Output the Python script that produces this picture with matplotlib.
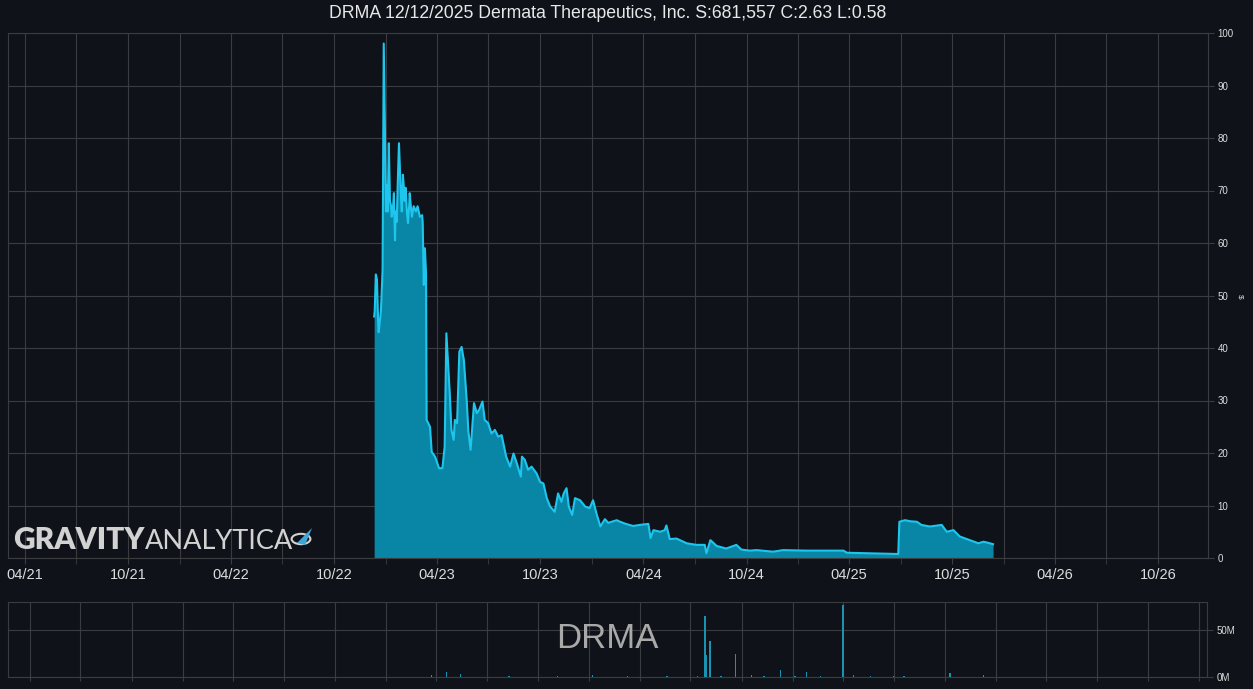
import matplotlib
matplotlib.use("Agg")
import matplotlib.pyplot as plt
import matplotlib.dates as mdates
from matplotlib.ticker import FixedLocator, FuncFormatter
import pandas as pd
from matplotlib.patches import Circle, Polygon

plt.rcParams['font.family'] = ['Liberation Sans', 'DejaVu Sans']

# ---------------- data ----------------
price_dates = [
    "2022-12-11", "2022-12-12", "2022-12-14", "2022-12-16", "2022-12-18", "2022-12-19",
    "2022-12-23", "2022-12-26", "2022-12-28", "2022-12-30", "2023-01-01", "2023-01-03",
    "2023-01-04", "2023-01-06", "2023-01-08", "2023-01-10", "2023-01-11", "2023-01-13",
    "2023-01-15", "2023-01-17", "2023-01-18", "2023-01-20", "2023-01-22", "2023-01-24",
    "2023-01-26", "2023-01-27", "2023-01-29", "2023-01-31", "2023-02-02", "2023-02-03",
    "2023-02-05", "2023-02-07", "2023-02-09", "2023-02-11", "2023-02-12", "2023-02-14",
    "2023-02-16", "2023-02-19", "2023-02-23", "2023-02-26", "2023-03-02", "2023-03-06",
    "2023-03-07", "2023-03-09", "2023-03-11", "2023-03-13", "2023-03-14", "2023-03-20",
    "2023-03-23", "2023-03-29", "2023-04-05", "2023-04-11", "2023-04-15", "2023-04-18",
    "2023-04-24", "2023-04-27", "2023-05-01", "2023-05-03", "2023-05-07", "2023-05-11",
    "2023-05-15", "2023-05-19", "2023-05-24", "2023-05-27", "2023-05-31", "2023-06-06",
    "2023-06-11", "2023-06-15", "2023-06-21", "2023-06-25", "2023-07-01", "2023-07-07",
    "2023-07-13", "2023-07-19", "2023-07-25", "2023-08-02", "2023-08-09", "2023-08-15",
    "2023-08-21", "2023-08-28", "2023-08-30", "2023-09-04", "2023-09-10", "2023-09-16",
    "2023-09-25", "2023-10-01", "2023-10-07", "2023-10-13", "2023-10-19", "2023-10-27",
    "2023-11-02", "2023-11-08", "2023-11-12", "2023-11-17", "2023-11-21", "2023-11-27",
    "2023-12-02", "2023-12-11", "2023-12-20", "2023-12-28", "2024-01-03", "2024-01-09",
    "2024-01-16", "2024-01-24", "2024-01-30", "2024-02-14", "2024-02-20", "2024-03-01",
    "2024-03-14", "2024-03-26", "2024-04-10", "2024-04-14", "2024-04-19", "2024-05-01",
    "2024-05-09", "2024-05-12", "2024-05-18", "2024-05-30", "2024-06-17", "2024-07-04",
    "2024-07-19", "2024-07-22", "2024-07-29", "2024-08-09", "2024-08-26", "2024-09-13",
    "2024-09-22", "2024-10-07", "2024-10-19", "2024-11-17", "2024-12-05", "2025-01-16",
    "2025-03-22", "2025-03-28", "2025-05-02", "2025-06-24", "2025-06-27", "2025-06-29",
    "2025-07-09", "2025-07-18", "2025-07-30", "2025-08-07", "2025-08-22", "2025-09-12",
    "2025-09-21", "2025-10-03", "2025-10-14", "2025-11-01", "2025-11-16", "2025-11-25",
    "2025-12-03", "2025-12-12",
]
price_values = [
    46, 47, 54, 53, 45, 43,
    47, 55, 98, 82, 66, 71,
    66, 79, 68, 67, 65, 66,
    69.5, 60.5, 66, 64, 72, 79,
    73, 70, 66, 73, 70, 68,
    70.5, 66, 63.8, 67, 69.5, 67,
    65, 67, 66, 67, 65, 65.3,
    64, 52, 59, 54, 26.3, 25,
    20.2, 19.3, 17.1, 17.1, 21.2, 42.8,
    31.4, 24.4, 22.5, 26.3, 25.7, 39.3,
    40.2, 37.7, 30.1, 24.1, 20.6, 29.5,
    27.6, 28.2, 29.8, 26.3, 25.7, 23.7,
    24.4, 23.1, 23.4, 19.3, 17.4, 19.9,
    18.0, 15.5, 19.3, 18.7, 16.8, 17.4,
    16.1, 14.5, 14.2, 11.4, 9.8, 8.8,
    12.3, 10.7, 12.3, 13.3, 9.8, 8.2,
    11.4, 11.0, 9.8, 9.5, 11.0, 8.5,
    6.0, 7.4, 6.7, 7.2, 6.9, 6.5,
    6.1, 6.3, 6.5, 3.8, 5.3, 5.0,
    5.3, 6.2, 3.6, 3.7, 2.8, 2.5,
    2.5, 0.9, 3.4, 2.3, 1.8, 2.5,
    1.6, 1.4, 1.5, 1.2, 1.5, 1.4,
    1.4, 1.0, 0.9, 0.76, 0.76, 6.9,
    7.2, 7.0, 6.9, 6.3, 6.0, 6.3,
    5.0, 5.3, 4.1, 3.4, 2.8, 3.1,
    2.9, 2.63,
]

volume_dates = [
    "2023-03-24", "2023-04-20", "2023-05-15", "2023-08-10", "2023-11-05", "2024-01-07",
    "2024-03-10", "2024-05-20", "2024-07-14", "2024-07-27", "2024-07-30", "2024-08-05",
    "2024-08-25", "2024-09-20", "2024-10-19", "2024-11-10", "2024-12-10", "2025-01-05",
    "2025-01-26", "2025-02-20", "2025-04-01", "2025-04-20", "2025-05-20", "2025-07-01",
    "2025-07-20", "2025-10-10", "2025-12-10",
]
volume_values_m = [
    2.0, 5.7, 3.0, 0.8, 0.6, 2.3,
    0.7, 0.9, 1.5, 65.0, 23.0, 38.0,
    1.2, 24.5, 2.0, 1.5, 7.5, 1.3,
    5.7, 1.2, 76.6, 2.0, 1.0, 1.5,
    1.0, 4.0, 2.0,
]

title_text = "DRMA 12/12/2025 Dermata Therapeutics, Inc. S:681,557 C:2.63 L:0.58"
ticker = "DRMA"
price_ticks = [0, 10, 20, 30, 40, 50, 60, 70, 80, 90, 100]
volume_ticks_m = [0, 50]

# ---------------- style ----------------
BG = "#0f1319"
GRID = "#3a3c40"
TXT = "#dcdcdc"
LINE = "#1ec6ee"
FILL = "#0986a6"
VOL = "#1a93b3"

W, H = 1253, 689
fig = plt.figure(figsize=(W / 100, H / 100), dpi=100, facecolor=BG)

def fx(px):
    return px / W

def fy(py):
    return 1 - py / H

# main axes
ax = fig.add_axes([fx(8), fy(558), fx(1208) - fx(8), fy(33) - fy(558)], facecolor=BG)
pd_dates = pd.to_datetime(price_dates)
ax.fill_between(pd_dates, 0, price_values, color=FILL, linewidth=0, zorder=2)
ax.plot(pd_dates, price_values, color=LINE, linewidth=1.5, zorder=3)

ax.set_xlim(pd.Timestamp("2021-03-02"), pd.Timestamp("2026-12-28"))
ax.set_ylim(0, 100)
ax.xaxis.set_major_locator(mdates.MonthLocator(bymonth=[4, 10]))
ax.xaxis.set_major_formatter(mdates.DateFormatter("%m/%y"))
ax.xaxis.set_minor_locator(mdates.MonthLocator(bymonth=[1, 7]))
ax.yaxis.set_major_locator(FixedLocator(price_ticks))
ax.yaxis.tick_right()
ax.grid(True, which="both", color=GRID, linewidth=0.8, zorder=0)
ax.set_axisbelow(True)
ax.tick_params(axis="x", which="major", colors=GRID, labelcolor=TXT, labelsize=10.5,
               length=4, pad=3)
ax.tick_params(axis="x", which="minor", colors=GRID, length=4)
ax.tick_params(axis="y", colors=GRID, labelcolor=TXT, labelsize=7, length=4, pad=3)
for s in ax.spines.values():
    s.set_color(GRID)
    s.set_linewidth(0.8)

# volume axes
vax = fig.add_axes([fx(8), fy(677), fx(1207) - fx(8), fy(602) - fy(677)], facecolor=BG)
vax.bar(pd.to_datetime(volume_dates), [v * 1e6 for v in volume_values_m], width=2.5,
        color=VOL, linewidth=0, zorder=3)
vax.set_xlim(pd.Timestamp("2021-02-21"), pd.Timestamp("2027-01-15"))
vax.set_ylim(0, 80e6)
vax.xaxis.set_major_locator(mdates.MonthLocator(bymonth=[1, 4, 7, 10]))
vax.xaxis.set_major_formatter(FuncFormatter(lambda v, p: ""))
vax.yaxis.set_major_locator(FixedLocator([t * 1e6 for t in volume_ticks_m]))
vax.yaxis.set_major_formatter(FuncFormatter(lambda v, p: f"{v / 1e6:.0f}M"))
vax.yaxis.tick_right()
vax.grid(True, color=GRID, linewidth=0.8, zorder=0)
vax.set_axisbelow(True)
vax.tick_params(axis="x", colors=GRID, length=3)
vax.tick_params(axis="y", colors=GRID, labelcolor=TXT, labelsize=7, length=4, pad=3)
for s in vax.spines.values():
    s.set_color(GRID)
    s.set_linewidth(0.8)
vax.text(0.5, 0.52, ticker, transform=vax.transAxes, ha="center", va="center",
         fontsize=25, color="#a9a9a9", zorder=4)

# title
fig.text(fx(608), fy(14), title_text, ha="center", va="center", fontsize=12.7, color="#e8e8e8")
fig.text(fx(1240), fy(296), "$", ha="center", va="center", fontsize=6, color=TXT, rotation=270)

# watermark
wm_col = "#d2d2d2"
fig.text(fx(13), fy(549), "GRAVITY", ha="left", va="baseline", fontsize=21.5,
         fontfamily="Lato", fontweight="heavy", color=wm_col, zorder=10)
fig.text(fx(145), fy(549), "ANALYTICA", ha="left", va="baseline", fontsize=19.5,
         fontfamily="Lato", fontweight="normal", color=wm_col, zorder=10)
circ = Circle((fx(301), fy(539)), 0.0075, transform=fig.transFigure, fill=False,
              edgecolor=wm_col, linewidth=1.5, zorder=10)
fig.patches.append(circ)
rocket = Polygon([(fx(297), fy(543)), (fx(312), fy(528)), (fx(305), fy(545))],
                 closed=True, transform=fig.transFigure, facecolor="#3fa6d8",
                 edgecolor="none", zorder=11)
fig.patches.append(rocket)

fig.savefig("out.png", dpi=100, facecolor=BG)
